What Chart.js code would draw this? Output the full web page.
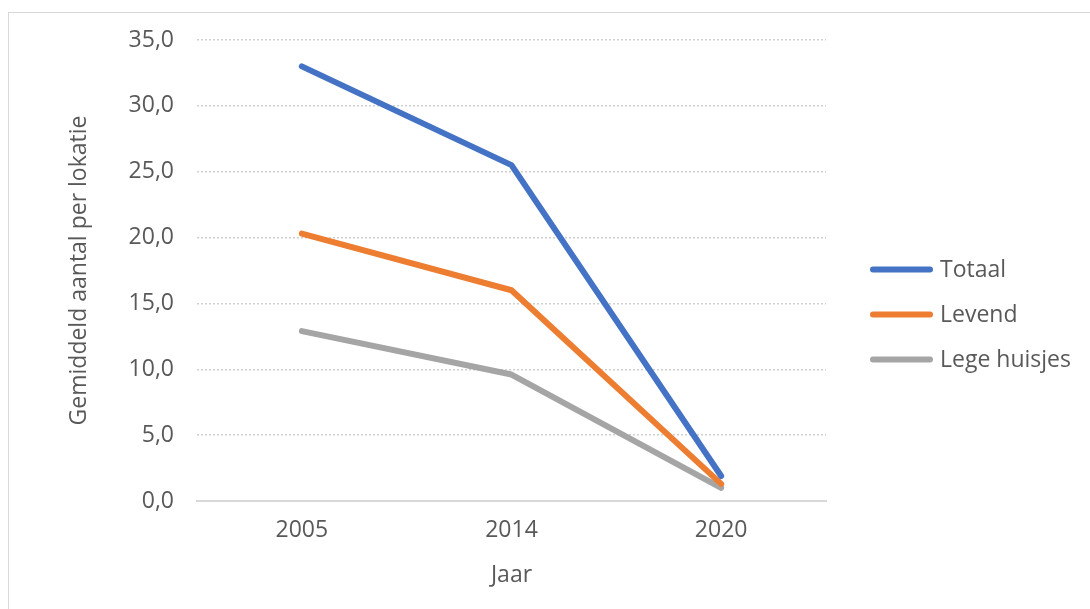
<!DOCTYPE html>
<html>
<head>
<meta charset="utf-8">
<script src="https://cdn.jsdelivr.net/npm/chart.js@4/dist/chart.umd.min.js"></script>
<style>
  html, body { margin: 0; padding: 0; background: #fff; overflow: hidden; }
  #wrap { position: relative; width: 1090px; height: 609px; }
  #frame { position: absolute; left: 8px; top: 12px; right: -5px; bottom: -5px;
           border-left: 1px solid #d9d9d9; border-top: 1px solid #d9d9d9; pointer-events: none; }
  canvas { position: absolute; left: 0; top: 0; }
</style>
</head>
<body>
<div id="wrap">
  <canvas id="chart" width="1090" height="609"></canvas>
  <div id="frame"></div>
</div>
<script>
// Gemiddeld aantal per lokatie, per jaar
const years = ['2005', '2014', '2020'];
const totaal = [33.0, 25.5, 1.9];
const levend = [20.3, 16.0, 1.3];
const legeHuisjes = [12.9, 9.6, 1.0];
const seriesNames = ['Totaal', 'Levend', 'Lege huisjes'];
const seriesColors = ['#4472C4', '#ED7D31', '#A5A5A5'];

const FONT = "'Open Sans', 'Noto Sans', sans-serif";
const TEXT = '#595959';

// Legend drawn to the right of the plot area, one line sample per series
const sideLegend = {
  id: 'sideLegend',
  afterDraw(chart) {
    const ctx = chart.ctx;
    const area = chart.chartArea;
    const mid = (area.top + area.bottom) / 2;
    ctx.save();
    ctx.font = '23px ' + FONT;
    ctx.textBaseline = 'middle';
    ctx.textAlign = 'left';
    chart.data.datasets.forEach((ds, i) => {
      const y = mid - 1 + i * 45;
      const x0 = area.right + 47;
      ctx.strokeStyle = ds.borderColor;
      ctx.lineWidth = 6;
      ctx.lineCap = 'round';
      ctx.beginPath();
      ctx.moveTo(x0, y);
      ctx.lineTo(x0 + 57, y);
      ctx.stroke();
      ctx.fillStyle = TEXT;
      ctx.fillText(ds.label, x0 + 67, y + 1);
    });
    ctx.restore();
  }
};

const seriesData = [totaal, levend, legeHuisjes];

new Chart(document.getElementById('chart'), {
  type: 'line',
  data: {
    labels: years,
    datasets: seriesData.map((vals, i) => ({
      label: seriesNames[i],
      data: vals,
      borderColor: seriesColors[i],
      backgroundColor: seriesColors[i],
      borderWidth: 6,
      borderCapStyle: 'round',
      borderJoinStyle: 'round',
      pointRadius: 0,
      tension: 0,
      fill: false
    }))
  },
  options: {
    responsive: false,
    animation: false,
    layout: { padding: { left: 66, top: 40, right: 264, bottom: 0 } },
    plugins: {
      legend: { display: false },
      tooltip: { enabled: false }
    },
    scales: {
      x: {
        offset: true,
        grid: { display: false, drawTicks: false },
        border: { display: true, color: '#d9d9d9', width: 2 },
        ticks: { color: TEXT, font: { family: FONT, size: 23 }, padding: 16 },
        title: { display: true, text: 'Jaar', color: TEXT,
                 font: { family: FONT, size: 23 }, padding: { top: 0, bottom: 20 } },
        afterFit(scale) { scale.height = 108; }
      },
      y: {
        min: 0, max: 35,
        ticks: {
          stepSize: 5, color: TEXT, padding: 23,
          font: { family: FONT, size: 23 },
          callback: (v) => v.toFixed(1).replace('.', ',')
        },
        grid: { color: '#d0d0d0', lineWidth: 1.5, drawTicks: false },
        border: { display: false, dash: [2, 2] },
        title: { display: true, text: 'Gemiddeld aantal per lokatie', color: TEXT,
                 font: { family: FONT, size: 23 }, padding: { top: 0, bottom: 0 } },
        afterFit(scale) { scale.width = 131; }
      }
    }
  },
  plugins: [sideLegend]
});
</script>
</body>
</html>
